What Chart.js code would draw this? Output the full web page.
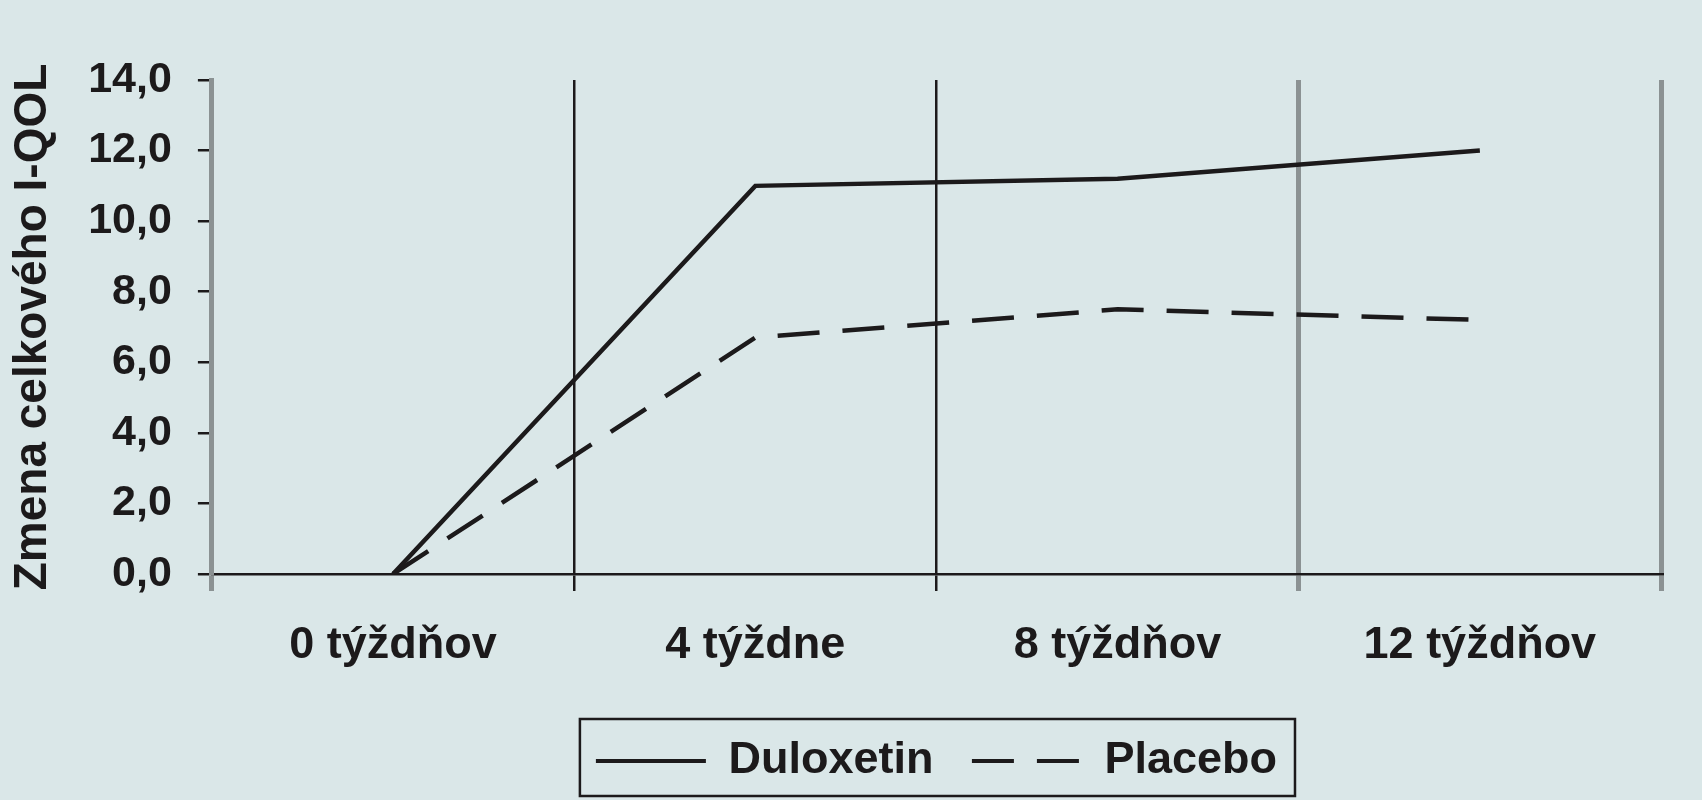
<!DOCTYPE html>
<html>
<head>
<meta charset="utf-8">
<script src="https://cdn.jsdelivr.net/npm/chart.js@4"></script>
<style>
  html, body { margin: 0; padding: 0; background: #dae7e8; }
  #wrap { width: 1702px; height: 800px; }
</style>
</head>
<body>
<div id="wrap"><canvas id="qol"></canvas></div>
<script>
// data
const weeks = ['0 týždňov', '4 týždne', '8 týždňov', '12 týždňov'];
const duloxetin = [0, 11.0, 11.2, 12.0];
const placebo = [0, 6.7, 7.5, 7.2];
const yTitle = 'Zmena celkového I-QOL';

const FONT = "'Liberation Sans', Arial, sans-serif";
const INK = '#1c1a1b';
const GREY = '#8b9293';

// grey frame lines at the left, after 8 weeks and at the right; thin black in between
const gridColor = ctx => (ctx.index === 1 || ctx.index === 2) ? INK : GREY;
const gridWidth = ctx => (ctx.index === 1 || ctx.index === 2) ? 2.5 : 5;

// box round the legend, like the original
const legendFrame = {
  id: 'legendFrame',
  afterDraw(chart) {
    const lg = chart.legend;
    if (!lg || !lg.legendHitBoxes.length) return;
    const boxes = lg.legendHitBoxes;
    const first = boxes[0];
    const last = boxes[boxes.length - 1];
    const mid = first.top + first.height / 2;
    const c = chart.ctx;
    c.save();
    c.strokeStyle = INK;
    c.lineWidth = 2.5;
    c.strokeRect(first.left - 16, mid - 42, (last.left + last.width + 18) - (first.left - 16), 77);
    c.restore();
  }
};

new Chart(document.getElementById('qol').getContext('2d'), {
  type: 'line',
  data: {
    labels: weeks,
    datasets: [{
      label: 'Duloxetin',
      data: duloxetin,
      borderColor: INK,
      backgroundColor: INK,
      borderWidth: 4.5,
      pointRadius: 0,
      tension: 0
    }, {
      label: 'Placebo',
      data: placebo,
      borderColor: INK,
      backgroundColor: INK,
      borderWidth: 4.5,
      borderDash: [42, 23],
      pointRadius: 0,
      tension: 0
    }]
  },
  options: {
    responsive: true,
    maintainAspectRatio: false,
    animation: false,
    layout: { padding: { left: 0, right: 41, top: 80, bottom: 6.5 } },
    plugins: {
      tooltip: { enabled: false },
      legend: {
        position: 'bottom',
        fullSize: false,
        labels: {
          usePointStyle: true,
          pointStyle: 'line',
          pointStyleWidth: 110,
          padding: 38.5,
          color: INK,
          font: { family: FONT, size: 45, weight: 'bold' },
          // keep the dataset dash in the legend sample
          generateLabels: chart => {
            const items = Chart.defaults.plugins.legend.labels.generateLabels(chart);
            items.forEach(item => {
              const ds = chart.data.datasets[item.datasetIndex];
              item.lineDash = ds.borderDash || [];
              item.lineWidth = 4;
              item.strokeStyle = INK;
            });
            return items;
          }
        }
      }
    },
    scales: {
      x: {
        offset: true,
        grid: {
          offset: true,
          drawOnChartArea: true,
          drawTicks: true,
          tickLength: 17,
          color: gridColor,
          lineWidth: gridWidth
        },
        border: { display: true, color: INK, width: 2.5 },
        ticks: {
          color: INK,
          padding: 27.5,
          maxRotation: 0,
          font: { family: FONT, size: 45, weight: 'bold' }
        }
      },
      y: {
        min: 0,
        max: 14,
        grid: {
          drawOnChartArea: false,
          drawTicks: true,
          tickLength: 14,
          color: INK,
          lineWidth: 2.5
        },
        border: { display: true, color: GREY, width: 5 },
        ticks: {
          stepSize: 2,
          color: INK,
          padding: 26,
          font: { family: FONT, size: 43, weight: 'bold' },
          callback: v => v.toFixed(1).replace('.', ',')
        },
        title: {
          display: true,
          text: yTitle,
          color: INK,
          padding: { top: 6, bottom: 1 },
          font: { family: FONT, size: 46, weight: 'bold' }
        }
      }
    }
  },
  plugins: [legendFrame]
});
</script>
</body>
</html>
